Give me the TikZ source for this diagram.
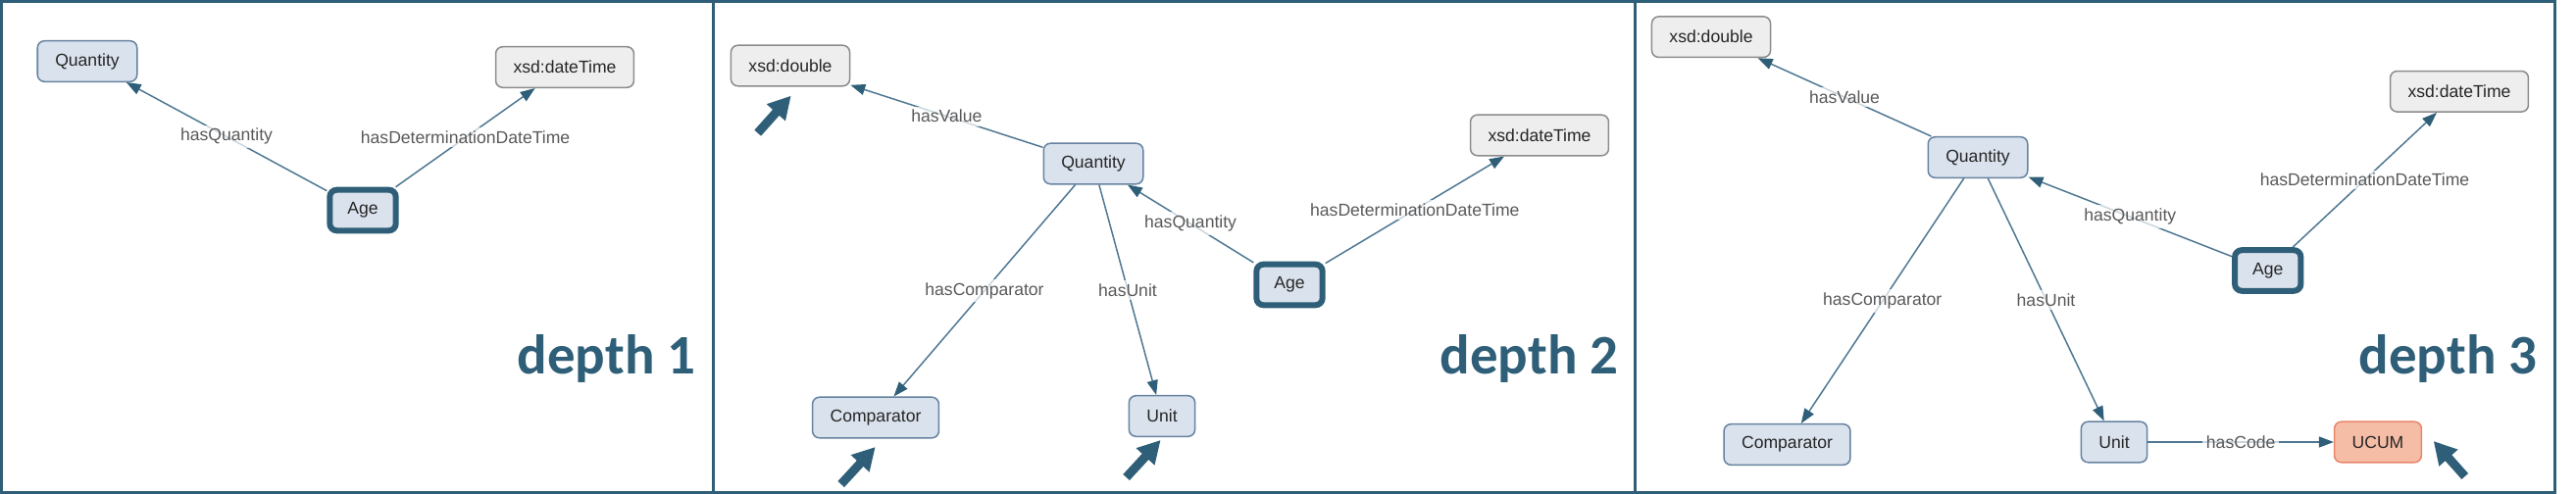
\documentclass[tikz,border=0pt]{standalone}
\usepackage{fontspec}
\setmainfont{Liberation Sans}
\newfontfamily\depthfont{Carlito}
\usetikzlibrary{arrows.meta}
\definecolor{teal}{HTML}{2F5F78}
\definecolor{edgec}{HTML}{4F7892}
\definecolor{clsfill}{HTML}{DAE2ED}
\definecolor{clsdraw}{HTML}{6683A0}
\definecolor{litfill}{HTML}{EEEEEE}
\definecolor{litdraw}{HTML}{8C8C8C}
\definecolor{extfill}{HTML}{F5BDA6}
\definecolor{extdraw}{HTML}{E9866C}

\begin{document}
\begin{tikzpicture}[x=0.01cm,y=-0.01cm,every node/.style={font=\fontsize{5}{6}\selectfont,text=black!85},
cls/.style={draw=clsdraw,fill=clsfill,rounded corners=0.07cm,line width=0.015cm,inner xsep=0.18cm,minimum height=0.415cm},
lit/.style={cls,draw=litdraw,fill=litfill},
ext/.style={cls,draw=extdraw,fill=extfill},
focus/.style={cls,draw=teal,line width=0.06cm},
rel/.style={draw=edgec,line width=0.015cm,-{Triangle[length=0.15cm,width=0.11cm,color=teal]}},
lbl/.style={midway,text=black!65,fill=white,fill opacity=.7,text opacity=1,inner sep=1pt},
pointer/.style={draw=teal,line width=0.09cm,-{Triangle[length=0.23cm,width=0.24cm]}},
depth/.style={anchor=base east,inner sep=0,font=\depthfont\bfseries\fontsize{16.2}{18}\selectfont,text=teal}]
\useasboundingbox (0,0) rectangle (2627,504);
\draw[teal,line width=0.03cm] (1.5,1.5) rectangle (2605.5,502.5) (727.5,1.5)--(727.5,502.5) (1667,1.5)--(1667,502.5);
% depth 1
\node[cls] (q1) at (89,62.5) {Quantity};
\node[lit] (dt1) at (576,68.5) {xsd:dateTime};
\node[focus] (a1) at (370,214.5) {Age};
\draw[rel] (a1)--(q1) node[lbl] {hasQuantity};
\draw[rel] (a1)--(dt1) node[lbl] {hasDeterminationDateTime};
\node[depth] at (710,382) {depth 1};
% depth 2
\node[lit] (db2) at (806,67) {xsd:double};
\node[cls] (q2) at (1115,167) {Quantity};
\node[lit] (dt2) at (1570,138) {xsd:dateTime};
\node[focus] (a2) at (1315,290.5) {Age};
\node[cls] (c2) at (893,426) {Comparator};
\node[cls] (u2) at (1185,424.5) {Unit};
\draw[rel] (a2)--(q2) node[lbl] {hasQuantity};
\draw[rel] (a2)--(dt2) node[lbl] {hasDeterminationDateTime};
\draw[rel] (q2)--(db2) node[lbl] {hasValue};
\draw[rel] (q2)--(c2) node[lbl] {hasComparator};
\draw[rel] (q2)--(u2) node[lbl] {hasUnit};
\coordinate (db2tip) at (806.7,97.7);
\coordinate (c2tip) at (892.7,456);
\coordinate (u2tip) at (1183.6,449);
\draw[pointer] ([shift={(-34,38)}]db2tip)--(db2tip);
\draw[pointer] ([shift={(-35,38)}]c2tip)--(c2tip);
\draw[pointer] ([shift={(-35,38)}]u2tip)--(u2tip);
\node[depth] at (1651,382) {depth 2};
% depth 3
\node[lit] (db3) at (1745,37.7) {xsd:double};
\node[cls] (q3) at (2017,160.5) {Quantity};
\node[lit] (dt3) at (2508,93.3) {xsd:dateTime};
\node[focus] (a3) at (2312.7,276) {Age};
\node[cls] (c3) at (1822.5,453.5) {Comparator};
\node[cls] (u3) at (2156,451) {Unit};
\node[ext] (ucum) at (2425,451) {UCUM};
\draw[rel] (a3)--(q3) node[lbl] {hasQuantity};
\draw[rel] (a3)--(dt3) node[lbl] {hasDeterminationDateTime};
\draw[rel] (q3)--(db3) node[lbl] {hasValue};
\draw[rel] (q3)--(c3) node[lbl] {hasComparator};
\draw[rel] (q3)--(u3) node[lbl] {hasUnit};
\draw[rel] (u3)--(ucum) node[lbl] {hasCode};
\coordinate (ucumtip) at (2481.7,450);
\draw[pointer] ([shift={(32,36)}]ucumtip)--(ucumtip);
\node[depth] at (2588,382) {depth 3};
\end{tikzpicture}
\end{document}
